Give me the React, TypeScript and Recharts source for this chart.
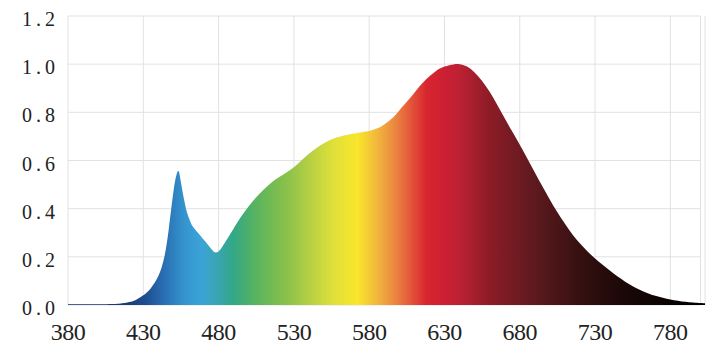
import React from 'react';
import { AreaChart, Area, XAxis, YAxis, CartesianGrid, ReferenceLine } from 'recharts';

const wavelengths = [
  380, 390, 400, 410, 415, 420, 425, 430, 435, 440, 444, 447, 450, 452, 453.5, 455, 457, 459, 461, 463,
  467, 470, 474, 478, 482, 486, 490, 495, 500, 505, 510, 515, 520, 525, 530, 535, 540, 545, 550, 556,
  562, 570, 578, 585, 590, 596, 600, 607, 612, 618, 624, 630, 636, 640, 645, 650, 655, 660, 665,
  670, 675, 680, 685, 690, 695, 700, 705, 710, 715, 720, 725, 730, 735, 740, 745, 750, 755, 760, 765,
  770, 775, 780, 785, 790, 795, 800, 803,
];
const intensity = [
  0.003, 0.003, 0.003, 0.004, 0.006, 0.011, 0.021, 0.04, 0.07, 0.12, 0.2, 0.32, 0.47, 0.54, 0.555, 0.51, 0.44, 0.385, 0.35, 0.325,
  0.295, 0.272, 0.242, 0.218, 0.238, 0.277, 0.318, 0.367, 0.41, 0.447, 0.48, 0.508, 0.53, 0.55, 0.572, 0.6, 0.628, 0.652, 0.672, 0.69,
  0.702, 0.712, 0.72, 0.733, 0.75, 0.78, 0.808, 0.858, 0.897, 0.938, 0.97, 0.99, 0.999, 1.0, 0.99, 0.965, 0.93, 0.885, 0.832,
  0.775, 0.72, 0.665, 0.608, 0.55, 0.493, 0.437, 0.385, 0.337, 0.293, 0.255, 0.222, 0.193, 0.167, 0.142, 0.118, 0.097, 0.078, 0.062, 0.049,
  0.038, 0.03, 0.023, 0.018, 0.013, 0.01, 0.008, 0.007,
];
const xTicks = [380, 430, 480, 530, 580, 630, 680, 730, 780, 800];
const yTicks = [0, 0.2, 0.4, 0.6, 0.8, 1.0, 1.2];

const gradientNm = [380, 420, 432, 445, 458, 468, 478, 490, 500, 512, 527, 540, 556, 572, 585, 596, 607, 618, 630, 640, 660, 690, 720, 750, 780, 803];
const gradientColors = [
  '#1a2f6a', '#1c3a78', '#1f4f92', '#2a72b5', '#3596cf', '#3aa3d8', '#3aa5b8', '#34a786', '#4cb06a', '#6bb955',
  '#8fc24a', '#b5cf44', '#dfe03a', '#f9e62c', '#f2b83c', '#eb8c40', '#e5583a', '#d8262f', '#cc1f33', '#bb2133',
  '#8c1c27', '#5d1a1f', '#351010', '#1a0707', '#0a0303', '#000000',
];

const data = wavelengths.map((nm, i) => ({ nm, v: intensity[i] }));
const xMin = wavelengths[0];
const xMax = wavelengths[wavelengths.length - 1];

const XTick = (props: any) => {
  const { x, y, payload } = props;
  if (payload.value === 800) return null;
  return (
    <text x={x} y={y} dy={35} textAnchor="middle" fill="#222" fontSize={24}
      fontFamily="'Liberation Serif', serif" letterSpacing={-0.5}>
      {payload.value}
    </text>
  );
};

const YTick = (props: any) => {
  const { x, y, payload } = props;
  return (
    <text x={x} y={y} dy={10} dx={4} textAnchor="end" fill="#222" fontSize={20}
      fontFamily="'Liberation Serif', serif" letterSpacing={4}>
      {Number(payload.value).toFixed(1)}
    </text>
  );
};

export default function App() {
  return (
    <div style={{ position: 'fixed', left: 0, top: 0, width: 720, height: 351, background: '#fff' }}>
      <AreaChart width={720} height={351} data={data} margin={{ top: 16, right: 15, bottom: 0, left: 0 }}>
        <defs>
          <linearGradient id="spectrum" x1="0" y1="0" x2="1" y2="0">
            {gradientNm.map((nm, i) => (
              <stop key={nm} offset={`${((nm - xMin) / (xMax - xMin)) * 100}%`} stopColor={gradientColors[i]} />
            ))}
          </linearGradient>
        </defs>
        <CartesianGrid horizontal={false} stroke="#e2e2e2" />
        {yTicks.map((v) => (
          <ReferenceLine key={v} segment={[{ x: 380, y: v }, { x: 800, y: v }]} stroke="#e2e2e2" zIndex={-50} />
        ))}
        <XAxis dataKey="nm" type="number" domain={[xMin, xMax]} ticks={xTicks} interval={0}
          axisLine={false} tickLine={false} tickSize={0} tickMargin={0} height={46} tick={<XTick />} />
        <YAxis type="number" domain={[0, 1.2]} ticks={yTicks} axisLine={false} tickLine={false}
          tickSize={0} tickMargin={13} width={68} tick={<YTick />} />
        <Area type="natural" dataKey="v" stroke="none" fill="url(#spectrum)" fillOpacity={1}
          isAnimationActive={false} dot={false} activeDot={false} />
      </AreaChart>
    </div>
  );
}
